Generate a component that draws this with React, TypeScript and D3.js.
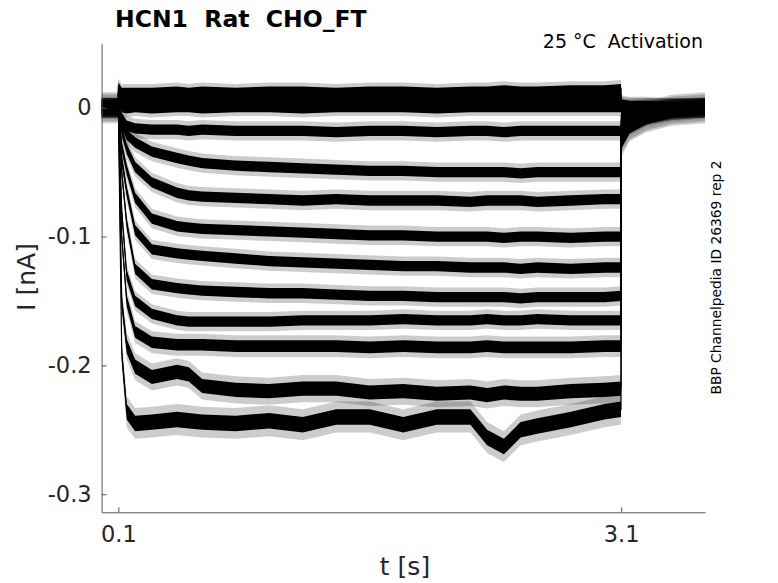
import React, { useRef, useEffect } from 'react';
import * as d3 from 'd3';

// sample times (s) shared by every sweep
const times = [0, 0.099, 0.1, 0.12, 0.15, 0.2, 0.3, 0.45, 0.52, 0.6, 0.8, 1.0, 1.2, 1.4, 1.6, 1.8, 2.0, 2.2, 2.3, 2.4, 2.5, 2.6, 2.8, 3.0, 3.099, 3.1, 3.15, 3.25, 3.4, 3.6];

// current (nA) per sweep
const sweep1 = [0, 0, 0.016, 0.012, 0.012, 0.012, 0.012, 0.013, 0.012, 0.013, 0.012, 0.013, 0.013, 0.012, 0.013, 0.013, 0.012, 0.013, 0.013, 0.014, 0.013, 0.013, 0.014, 0.014, 0.015, 0.003, 0.002, 0.002, 0.001, 0.001];
const sweep2 = [0, 0, 0.014, 0.009, 0.008, 0.008, 0.008, 0.008, 0.008, 0.008, 0.009, 0.008, 0.008, 0.008, 0.009, 0.008, 0.008, 0.008, 0.008, 0.009, 0.008, 0.009, 0.009, 0.009, 0.010, 0.002, 0.001, 0.001, 0.001, 0];
const sweep3 = [0, 0, 0.012, 0.004, 0.004, 0.004, 0.004, 0.004, 0.004, 0.004, 0.004, 0.004, 0.005, 0.004, 0.004, 0.004, 0.004, 0.005, 0.004, 0.004, 0.004, 0.005, 0.005, 0.005, 0.005, 0, 0, 0.001, 0, 0];
const sweep4 = [0, 0, 0.010, 0, -0.001, 0, -0.001, 0, 0, -0.001, 0, 0, -0.001, 0, 0, 0, -0.001, 0, 0, 0, 0, 0, 0, 0, 0, -0.003, -0.002, -0.001, 0, 0];
const sweep5 = [0, 0, 0.006, -0.008, -0.014, -0.016, -0.017, -0.017, -0.018, -0.017, -0.018, -0.018, -0.018, -0.019, -0.018, -0.018, -0.019, -0.018, -0.018, -0.019, -0.018, -0.018, -0.018, -0.018, -0.018, -0.006, -0.003, -0.001, 0, 0];
const sweep6 = [0, 0, 0.005, -0.012, -0.021, -0.027, -0.034, -0.039, -0.041, -0.043, -0.045, -0.046, -0.047, -0.048, -0.049, -0.049, -0.050, -0.050, -0.050, -0.050, -0.051, -0.050, -0.050, -0.050, -0.050, -0.010, -0.006, -0.003, -0.001, 0];
const sweep7 = [0, 0, 0.004, -0.018, -0.032, -0.046, -0.058, -0.066, -0.068, -0.069, -0.070, -0.071, -0.072, -0.071, -0.072, -0.072, -0.072, -0.073, -0.072, -0.072, -0.072, -0.073, -0.072, -0.071, -0.071, -0.013, -0.008, -0.004, -0.001, 0];
const sweep8 = [0, 0, 0.004, -0.030, -0.048, -0.070, -0.086, -0.092, -0.093, -0.094, -0.095, -0.096, -0.097, -0.098, -0.099, -0.099, -0.100, -0.100, -0.100, -0.101, -0.100, -0.100, -0.101, -0.100, -0.100, -0.016, -0.009, -0.004, -0.001, 0];
const sweep9 = [0, 0, 0.003, -0.040, -0.065, -0.095, -0.110, -0.113, -0.114, -0.115, -0.117, -0.119, -0.120, -0.121, -0.122, -0.123, -0.123, -0.124, -0.124, -0.124, -0.125, -0.124, -0.125, -0.124, -0.124, -0.018, -0.010, -0.005, -0.002, 0];
const sweep10 = [0, 0, 0.003, -0.050, -0.090, -0.125, -0.137, -0.140, -0.141, -0.142, -0.143, -0.144, -0.144, -0.145, -0.146, -0.146, -0.147, -0.147, -0.147, -0.147, -0.148, -0.147, -0.147, -0.147, -0.146, -0.020, -0.011, -0.005, -0.002, 0];
const sweep11 = [0, 0, 0.002, -0.080, -0.130, -0.150, -0.160, -0.165, -0.166, -0.166, -0.166, -0.166, -0.165, -0.165, -0.165, -0.164, -0.165, -0.165, -0.164, -0.165, -0.165, -0.164, -0.165, -0.165, -0.165, -0.022, -0.012, -0.006, -0.002, 0];
const sweep12 = [0, 0, 0.002, -0.100, -0.150, -0.174, -0.182, -0.184, -0.184, -0.184, -0.185, -0.185, -0.185, -0.185, -0.186, -0.185, -0.186, -0.186, -0.185, -0.186, -0.186, -0.186, -0.186, -0.185, -0.185, -0.023, -0.013, -0.006, -0.002, 0];
const sweep13 = [0, 0, 0.001, -0.150, -0.185, -0.201, -0.209, -0.205, -0.207, -0.216, -0.219, -0.220, -0.218, -0.218, -0.221, -0.220, -0.222, -0.221, -0.223, -0.221, -0.222, -0.222, -0.220, -0.219, -0.218, -0.025, -0.014, -0.007, -0.002, 0];
const sweep14 = [0, 0, 0.001, -0.190, -0.236, -0.245, -0.244, -0.242, -0.243, -0.244, -0.245, -0.243, -0.246, -0.240, -0.240, -0.246, -0.240, -0.240, -0.256, -0.263, -0.250, -0.247, -0.242, -0.236, -0.234, -0.026, -0.014, -0.007, -0.002, 0];

const sweeps = [sweep1, sweep2, sweep3, sweep4, sweep5, sweep6, sweep7, sweep8, sweep9, sweep10, sweep11, sweep12, sweep13, sweep14];

// half height of the solid noise band of each sweep (nA)
const noiseHalfWidth = [0.0035, 0.0035, 0.0035, 0.0035, 0.004, 0.004, 0.004, 0.004, 0.004, 0.004, 0.004, 0.0045, 0.0055, 0.006];
// extra reach of the sparse spikes beyond the solid band (nA)
const spikeReach = [0.003, 0.003, 0.003, 0.003, 0.0035, 0.0035, 0.0035, 0.0035, 0.0035, 0.0035, 0.0035, 0.004, 0.005, 0.006];

const xTicks = [0.1, 3.1];
const yTicks = [-0.3, -0.2, -0.1, 0];

const W = 778;
const H = 583;
const FONT = 'DejaVu Sans, sans-serif';

type Pt = { t: number; v: number };

export default function App() {
  const svgRef = useRef<SVGSVGElement>(null);

  useEffect(() => {
    const svg = d3.select(svgRef.current);
    svg.selectAll('*').remove();

    const x = d3.scaleLinear().domain([0, 3.6]).range([101.6, 705]);
    const y = d3.scaleLinear().domain([-0.314, 0.05]).range([512.3, 43.3]);

    const traces = svg.append('g');

    const bandOf = (h: number) => d3.area<Pt>()
      .x(d => x(d.t))
      .y0(d => y(d.v - h))
      .y1(d => y(d.v + h));

    const line = d3.line<Pt>()
      .x(d => x(d.t))
      .y(d => y(d.v));

    // faint fringe first so the solid cores sit on top of it
    sweeps.forEach((vals, i) => {
      const pts = times.map((t, j) => ({ t, v: vals[j] }));
      traces.append('path')
        .attr('d', bandOf(noiseHalfWidth[i] + spikeReach[i])(pts))
        .attr('fill', '#000')
        .attr('fill-opacity', 0.2);
    });

    sweeps.forEach((vals, i) => {
      const pts = times.map((t, j) => ({ t, v: vals[j] }));
      traces.append('path')
        .attr('d', bandOf(noiseHalfWidth[i])(pts))
        .attr('fill', '#000');

      traces.append('path')
        .attr('d', line(pts))
        .attr('fill', 'none')
        .attr('stroke', '#000')
        .attr('stroke-width', 1.2);
    });

    // axes, ticks pointing inward like MATLAB
    const fmt = (d: d3.NumberValue) => {
      const n = Math.round(+d * 10) / 10;
      return n === 0 ? '0' : String(n);
    };

    const yAxis = d3.axisLeft(y)
      .tickValues(yTicks)
      .tickSizeInner(-5)
      .tickSizeOuter(0)
      .tickPadding(10)
      .tickFormat(fmt);

    const xAxis = d3.axisBottom(x)
      .tickValues(xTicks)
      .tickSizeInner(-5)
      .tickSizeOuter(0)
      .tickPadding(14)
      .tickFormat(d => String(+d));

    const gy = svg.append('g')
      .attr('transform', `translate(${x.range()[0]},0)`)
      .call(yAxis);

    const gx = svg.append('g')
      .attr('transform', `translate(0,${y.range()[0]})`)
      .call(xAxis);

    [gx, gy].forEach(g => {
      g.selectAll('path, line').attr('stroke', '#555').attr('stroke-width', 1);
      g.selectAll('text')
        .attr('fill', '#262626')
        .style('font-family', FONT)
        .style('font-size', '22.5px');
      g.attr('font-family', null).attr('font-size', null);
    });

    // labels
    svg.append('text')
      .attr('x', 115)
      .attr('y', 26.7)
      .style('font-family', FONT)
      .style('font-size', '23.5px')
      .style('font-weight', 'bold')
      .style('white-space', 'pre')
      .text('HCN1  Rat  CHO_FT');

    svg.append('text')
      .attr('x', 703)
      .attr('y', 47.5)
      .attr('text-anchor', 'end')
      .style('font-family', FONT)
      .style('font-size', '19px')
      .style('white-space', 'pre')
      .text('25 °C  Activation');

    svg.append('text')
      .attr('transform', 'translate(721,277.5) rotate(-90)')
      .attr('text-anchor', 'middle')
      .style('font-family', FONT)
      .style('font-size', '13.8px')
      .text('BBP Channelpedia ID 26369 rep 2');

    svg.append('text')
      .attr('transform', 'translate(35,277) rotate(-90)')
      .attr('text-anchor', 'middle')
      .attr('fill', '#262626')
      .style('font-family', FONT)
      .style('font-size', '25px')
      .text('I [nA]');

    svg.append('text')
      .attr('x', 405)
      .attr('y', 575)
      .attr('text-anchor', 'middle')
      .attr('fill', '#262626')
      .style('font-family', FONT)
      .style('font-size', '25px')
      .text('t [s]');
  }, []);

  return (
    <div style={{ position: 'absolute', left: 0, top: 0 }}>
      <svg ref={svgRef} width={W} height={H} style={{ display: 'block', background: '#fff' }} />
    </div>
  );
}
